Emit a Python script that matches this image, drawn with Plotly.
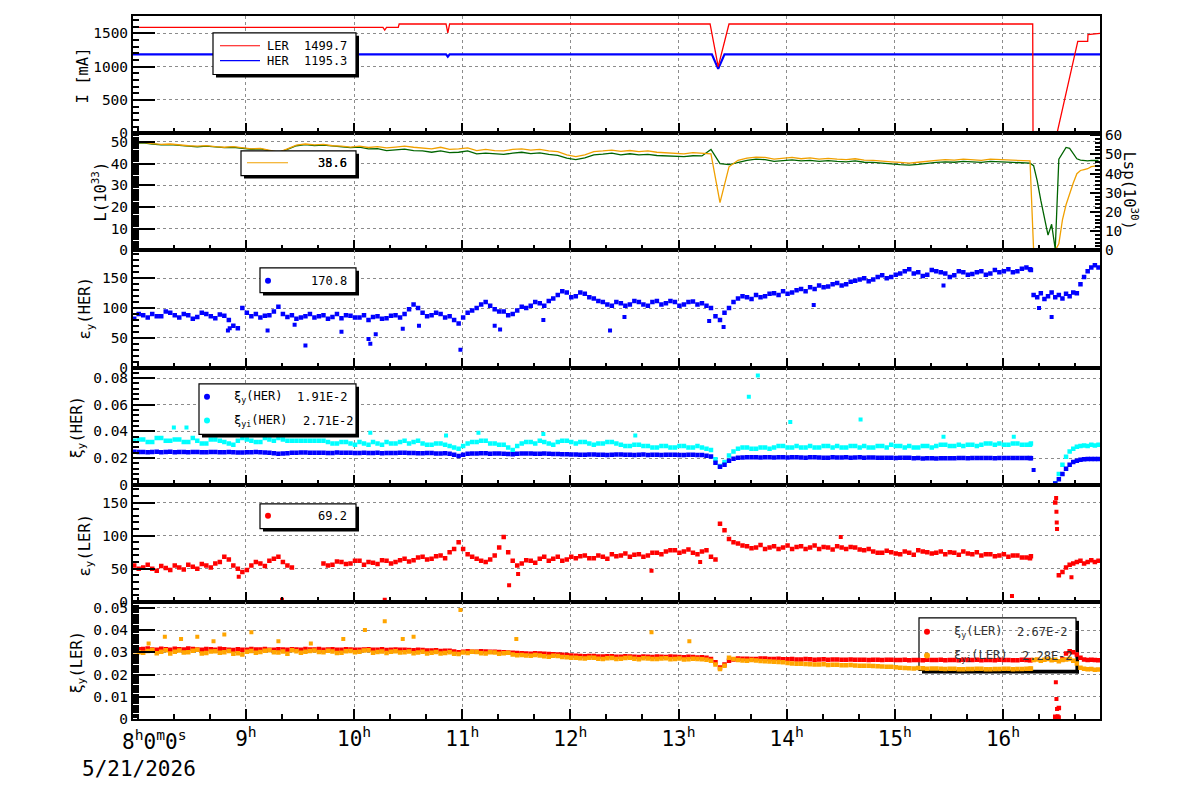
import pandas as pd
import plotly.graph_objects as go
from plotly.subplots import make_subplots

DAY = "2026-05-21"

# ---------------- sampling times ----------------
T_MAIN = list(pd.date_range(f"{DAY} 07:58", f"{DAY} 16:13", freq="5min"))      # 100 samples
T_POST = list(pd.date_range(f"{DAY} 16:15", f"{DAY} 16:53", freq="2min"))      # 20 samples
T_B = list(pd.date_range(f"{DAY} 08:00:30", f"{DAY} 16:15:30", freq="5min"))   # 100 in-between samples
T_ALL = T_MAIN + T_POST


def ts(hms):
    return [pd.Timestamp(f"{DAY} {h}") for h in hms]


# ---------------- panel 1 : beam currents [mA] ----------------
ler_i_t = ["07:57:20", "10:16:00", "10:17:00", "10:18:00", "10:24:30", "10:25:00", "10:51:00",
           "10:52:00", "10:53:00", "13:17:30", "13:22:00", "13:28:00", "16:16:30", "16:16:40",
           "16:30:00", "16:41:30", "16:47:00", "16:47:10", "16:53:50"]
ler_i_v = [1590, 1590, 1548, 1590, 1590, 1640, 1640, 1505, 1640, 1640, 1000, 1640, 1640, 0,
           0, 1380, 1380, 1480, 1500]
her_i_t = ["07:57:20", "10:51:00", "10:52:00", "10:53:00", "13:18:30", "13:22:00", "13:25:30",
           "16:53:50"]
her_i_v = [1185, 1185, 1150, 1185, 1185, 965, 1185, 1185]

# ---------------- panel 2 : luminosity ----------------
lum_orange = [49.5, 49.8, 49.2, 48.8, 49.0, 48.5, 48.2, 48.0, 48.3, 47.8,
              47.5, 47.8, 47.2, 46.8, 47.0, 46.0, 45.2, 46.8, 48.5, 49.0,
              48.6, 48.8, 48.2, 48.0, 47.6, 48.0, 47.4, 47.8, 47.2, 47.6,
              48.0, 47.5, 47.2, 46.8, 47.5, 46.5, 46.8, 47.2, 46.0, 46.5,
              46.0, 45.8, 46.5, 46.8, 46.2, 46.5, 45.8, 45.5, 44.0, 43.2,
              44.0, 45.5, 45.8, 46.2, 45.6, 46.0, 45.5, 45.8, 45.2, 45.0,
              44.8, 44.5, 45.0, 44.8, 44.5, 22.0, 38.5, 41.5, 42.5, 43.0,
              42.8, 42.0, 42.5, 42.8, 42.2, 42.6, 42.0, 42.4, 42.0, 41.8,
              42.2, 41.6, 41.5, 41.0, 40.8, 40.5, 40.2, 40.6, 41.2, 41.5,
              41.8, 41.6, 42.0, 41.8, 41.5, 42.0, 41.8, 41.5, 41.6, 41.2,
              # after 16:15
              41.2, 0, 0, 0, 0, 0, 0, 0, 3.0, 14.0,
              21.0, 26.5, 31.0, 35.3, 36.8, 37.2, 37.6, 38.6, 38.8, 39.0]
lum_green = [49.2, 49.5, 49.0, 48.6, 48.7, 48.3, 48.0, 47.7, 48.0, 47.5,
             47.3, 47.5, 47.0, 46.6, 46.8, 45.8, 45.0, 46.5, 48.2, 48.7,
             48.3, 48.5, 48.0, 47.7, 47.3, 47.6, 46.8, 46.9, 46.0, 46.3,
             46.6, 46.0, 45.8, 45.2, 45.8, 45.0, 45.2, 45.8, 44.5, 44.8,
             44.5, 44.2, 44.8, 45.2, 44.6, 44.9, 44.2, 43.8, 42.5, 41.8,
             42.6, 44.0, 44.3, 44.8, 44.0, 44.5, 44.0, 44.2, 43.7, 43.5,
             43.4, 43.2, 43.6, 43.5, 46.5, 40.0, 39.5, 40.5, 41.5, 42.0,
             41.8, 41.0, 41.4, 41.7, 41.2, 41.5, 41.0, 41.3, 41.0, 40.8,
             41.2, 40.6, 40.5, 40.0, 39.8, 39.5, 39.3, 39.6, 40.2, 40.5,
             40.8, 40.6, 41.0, 40.8, 40.5, 41.0, 40.8, 40.5, 40.6, 40.2,
             # after 16:15
             40.2, 39.0, 32.0, 23.0, 15.0, 7.0, 12.0, 0.5, 42.0, 45.0,
             47.4, 47.0, 44.5, 42.2, 41.6, 41.4, 41.2, 41.5, 41.3, 41.4]

# ---------------- panel 3 : emittance y (HER) ----------------
ey_her = [82, 88, 90, 86, 92, 84, 88, 85, 90, 83,
          87, 70, 100, 86, 84, 88, 102, 85, 82, 86,
          84, 88, 85, 83, 87, 84, 80, 86, 83, 88,
          90, 106, 92, 88, 90, 86, 74, 92, 100, 110,
          98, 94, 90, 102, 104, 108, 112, 122, 126, 120,
          124, 116, 110, 104, 108, 106, 110, 104, 112, 108,
          110, 106, 111, 108, 100, 80, 100, 116, 118, 122,
          120, 125, 128, 126, 132, 135, 138, 136, 142, 140,
          146, 150, 148, 155, 152, 158, 165, 160, 156, 162,
          158, 155, 160, 157, 162, 158, 160, 165, 162, 168,
          # after 16:15
          165, 122, 118, 125, 115, 120, 126, 118, 122, 116,
          124, 120, 126, 125, 140, 152, 162, 168, 172, 168]
ey_her_b = [90, 84, 86, 94, 88, 90, 82, 92, 86, 89,
            80, 66, 92, 90, 87, 94, 90, 88, 84, 90,
            86, 82, 90, 88, 84, 88, 85, 82, 87, 84,
            98, 100, 86, 92, 84, 80, 84, 96, 106, 104,
            94, 88, 96, 100, 110, 104, 116, 128, 118, 126,
            118, 112, 106, 110, 104, 112, 106, 110, 106, 112,
            104, 110, 106, 104, 86, 92, 110, 120, 115, 118,
            124, 122, 124, 130, 128, 132, 135, 140, 138, 144,
            148, 145, 152, 150, 156, 162, 158, 154, 164, 160,
            152, 162, 156, 160, 156, 164, 162, 160, 166, 164]
ey_her_out_t = ["08:50", "08:51", "09:12", "09:27", "09:33", "09:53", "10:08", "10:09", "10:12",
                "10:27", "10:36", "10:59", "11:18", "11:21", "11:45", "12:22", "12:30", "13:17",
                "13:25", "14:15", "15:27", "16:20", "16:27"]
ey_her_out_v = [62, 66, 62, 72, 37, 60, 48, 40, 56, 65, 70, 30, 70, 64, 80, 62, 85, 78, 68,
                105, 138, 100, 85]

# ---------------- panel 4 : beam-beam xi_y (HER) ----------------
xi_her = [0.0248, 0.0245, 0.0246, 0.0244, 0.0247, 0.0245, 0.0243, 0.0246, 0.0244, 0.0245,
          0.0243, 0.0244, 0.0242, 0.0244, 0.0243, 0.0240, 0.0232, 0.0236, 0.0240, 0.0241,
          0.0239, 0.0240, 0.0238, 0.0240, 0.0239, 0.0238, 0.0237, 0.0239, 0.0238, 0.0237,
          0.0239, 0.0238, 0.0236, 0.0237, 0.0235, 0.0232, 0.0215, 0.0232, 0.0235, 0.0236,
          0.0234, 0.0233, 0.0228, 0.0234, 0.0235, 0.0233, 0.0232, 0.0230, 0.0228, 0.0226,
          0.0225, 0.0226, 0.0224, 0.0225, 0.0226, 0.0224, 0.0225, 0.0223, 0.0224, 0.0225,
          0.0224, 0.0223, 0.0224, 0.0222, 0.0212, 0.0135, 0.0180, 0.0202, 0.0205, 0.0206,
          0.0205, 0.0204, 0.0206, 0.0205, 0.0204, 0.0205, 0.0204, 0.0203, 0.0204, 0.0205,
          0.0204, 0.0203, 0.0204, 0.0203, 0.0202, 0.0203, 0.0202, 0.0200, 0.0198, 0.0197,
          0.0198, 0.0199, 0.0200, 0.0201, 0.0200, 0.0201, 0.0200, 0.0201, 0.0200, 0.0200,
          # after 16:15
          0.0200, None, None, None, None, None, None, 0.0008, 0.0040, 0.0080,
          0.0120, 0.0150, 0.0170, 0.0180, 0.0187, 0.0190, 0.0192, 0.0193, 0.0192, 0.0193]
xi_her_b = [0.0246, 0.0244, 0.0247, 0.0245, 0.0243, 0.0246, 0.0245, 0.0244, 0.0246, 0.0243,
            0.0245, 0.0242, 0.0244, 0.0245, 0.0241, 0.0236, 0.0234, 0.0239, 0.0241, 0.0239,
            0.0240, 0.0238, 0.0241, 0.0239, 0.0237, 0.0239, 0.0238, 0.0236, 0.0238, 0.0239,
            0.0237, 0.0236, 0.0238, 0.0234, 0.0236, 0.0225, 0.0224, 0.0234, 0.0236, 0.0233,
            0.0235, 0.0231, 0.0232, 0.0235, 0.0232, 0.0234, 0.0231, 0.0229, 0.0227, 0.0224,
            0.0226, 0.0225, 0.0223, 0.0226, 0.0225, 0.0223, 0.0226, 0.0224, 0.0223, 0.0225,
            0.0222, 0.0224, 0.0223, 0.0218, 0.0165, 0.0150, 0.0195, 0.0204, 0.0206, 0.0204,
            0.0205, 0.0206, 0.0204, 0.0205, 0.0203, 0.0205, 0.0203, 0.0205, 0.0204, 0.0203,
            0.0205, 0.0204, 0.0202, 0.0203, 0.0201, 0.0202, 0.0199, 0.0197, 0.0198, 0.0199,
            0.0198, 0.0200, 0.0199, 0.0201, 0.0200, 0.0199, 0.0201, 0.0200, 0.0201, 0.0199]
xi_her_out_t = ["16:17"]
xi_her_out_v = [0.011]
xii_her = [0.033, 0.034, 0.032, 0.035, 0.033, 0.034, 0.032, 0.033, 0.031, 0.034,
           0.032, 0.030, 0.035, 0.033, 0.032, 0.034, 0.035, 0.033, 0.033, 0.033,
           0.033, 0.033, 0.031, 0.032, 0.031, 0.032, 0.030, 0.031, 0.032, 0.031,
           0.033, 0.032, 0.031, 0.030, 0.031, 0.029, 0.027, 0.031, 0.032, 0.033,
           0.031, 0.030, 0.026, 0.031, 0.032, 0.033, 0.031, 0.032, 0.033, 0.031,
           0.032, 0.030, 0.031, 0.032, 0.030, 0.029, 0.030, 0.029, 0.028, 0.029,
           0.028, 0.029, 0.028, 0.028, 0.026, 0.014, 0.022, 0.027, 0.028, 0.027,
           0.028, 0.028, 0.029, 0.028, 0.028, 0.029, 0.028, 0.029, 0.029, 0.028,
           0.029, 0.029, 0.028, 0.029, 0.030, 0.029, 0.029, 0.028, 0.029, 0.029,
           0.030, 0.029, 0.029, 0.030, 0.030, 0.031, 0.031, 0.030, 0.031, 0.030,
           # after 16:15
           0.030, None, None, None, None, None, None, 0.001, 0.008, 0.015,
           0.021, 0.025, 0.027, 0.0285, 0.029, 0.0295, 0.029, 0.030, 0.0295, 0.030]
xii_her_b = [0.034, 0.032, 0.035, 0.033, 0.034, 0.032, 0.035, 0.031, 0.034, 0.033,
             0.031, 0.033, 0.034, 0.032, 0.035, 0.033, 0.034, 0.033, 0.033, 0.033,
             0.033, 0.032, 0.031, 0.032, 0.030, 0.031, 0.032, 0.030, 0.031, 0.032,
             0.031, 0.033, 0.030, 0.031, 0.030, 0.028, 0.029, 0.032, 0.033, 0.031,
             0.030, 0.028, 0.029, 0.032, 0.031, 0.032, 0.030, 0.033, 0.032, 0.032,
             0.031, 0.031, 0.032, 0.031, 0.029, 0.030, 0.029, 0.028, 0.029, 0.028,
             0.029, 0.028, 0.029, 0.027, 0.019, 0.017, 0.025, 0.028, 0.027, 0.028,
             0.027, 0.029, 0.028, 0.029, 0.028, 0.028, 0.029, 0.028, 0.028, 0.029,
             0.028, 0.028, 0.029, 0.028, 0.029, 0.028, 0.028, 0.029, 0.028, 0.030,
             0.029, 0.030, 0.030, 0.029, 0.031, 0.030, 0.030, 0.031, 0.030, 0.031]
xii_her_out_t = ["08:20", "08:27", "08:36", "09:04", "09:18", "09:27", "10:09", "10:51", "11:09",
                 "11:45", "12:36", "13:39", "13:44", "14:02", "14:41", "15:27", "16:06"]
xii_her_out_v = [0.043, 0.043, 0.039, 0.040, 0.042, 0.038, 0.039, 0.037, 0.039, 0.038, 0.037,
                 0.066, 0.082, 0.047, 0.049, 0.036, 0.036]

# ---------------- panel 5 : emittance y (LER) ----------------
ey_ler = [55, 52, 50, 54, 48, 52, 56, 50, 55, 58,
          68, 55, 45, 55, 58, 62, 68, 55, None, None,
          None, 58, 56, 60, 58, 62, 60, 57, 62, 60,
          65, 63, 68, 65, 70, 75, 90, 72, 65, 60,
          70, 98, 62, 58, 62, 65, 62, 68, 64, 66,
          70, 66, 68, 72, 70, 68, 72, 70, 74, 76,
          78, 76, 74, 76, 68, 118, 95, 88, 84, 82,
          80, 84, 82, 80, 84, 82, 80, 82, 84, 80,
          82, 78, 76, 74, 75, 72, 74, 78, 75, 74,
          72, 74, 76, 72, 70, 72, 70, 68, 70, 67,
          # after 16:15
          66, None, None, None, None, None, None, 150, 40, 45,
          52, 56, 58, 60, 62, 58, 60, 63, 60, 62]
ey_ler_b = [50, 56, 47, 51, 55, 49, 53, 57, 52, 60,
            64, 50, 48, 60, 54, 65, 60, 52, None, None,
            None, 55, 61, 57, 62, 56, 59, 63, 58, 63,
            61, 67, 64, 69, 66, 80, 80, 68, 62, 64,
            82, 75, 55, 63, 59, 68, 65, 62, 68, 69,
            66, 70, 65, 69, 73, 71, 68, 74, 72, 78,
            74, 79, 72, 78, 64, 108, 90, 85, 81, 86,
            82, 80, 85, 83, 80, 85, 83, 79, 82, 83,
            79, 80, 74, 77, 73, 76, 71, 76, 73, 76,
            75, 71, 73, 75, 72, 69, 72, 70, 67, 69]
ey_ler_out_t = ["08:56", "09:20", "10:17", "11:26", "11:31", "12:45", "13:12", "14:30", "16:05",
                "16:29:30", "16:29:40", "16:29:50", "16:30:00", "16:38"]
ey_ler_out_v = [38, 3, 3, 25, 42, 47, 60, 98, 9, 157, 136, 120, 110, 37]

# ---------------- panel 6 : beam-beam xi_y (LER) ----------------
xi_ler = [0.0318, 0.0315, 0.0313, 0.0316, 0.0312, 0.0314, 0.0317, 0.0313, 0.0315, 0.0312,
          0.0314, 0.0310, 0.0312, 0.0315, 0.0313, 0.0311, 0.0314, 0.0312, 0.0313, 0.0315,
          0.0313, 0.0312, 0.0314, 0.0311, 0.0313, 0.0312, 0.0314, 0.0312, 0.0310, 0.0313,
          0.0311, 0.0309, 0.0310, 0.0308, 0.0306, 0.0307, 0.0300, 0.0305, 0.0303, 0.0304,
          0.0302, 0.0300, 0.0298, 0.0296, 0.0294, 0.0295, 0.0292, 0.0290, 0.0288, 0.0284,
          0.0282, 0.0283, 0.0281, 0.0282, 0.0280, 0.0281, 0.0279, 0.0280, 0.0281, 0.0279,
          0.0280, 0.0278, 0.0279, 0.0278, 0.0270, 0.0232, 0.0262, 0.0272, 0.0271, 0.0270,
          0.0272, 0.0270, 0.0269, 0.0270, 0.0268, 0.0269, 0.0268, 0.0267, 0.0268, 0.0267,
          0.0266, 0.0267, 0.0266, 0.0265, 0.0266, 0.0265, 0.0264, 0.0265, 0.0266, 0.0265,
          0.0264, 0.0265, 0.0266, 0.0265, 0.0264, 0.0265, 0.0266, 0.0265, 0.0264, 0.0265,
          # after 16:15
          0.0264, None, None, None, None, None, None, 0.0010, 0.0050, 0.0270,
          0.0295, 0.0305, 0.0300, 0.0290, 0.0275, 0.0268, 0.0265, 0.0266, 0.0265, 0.0264]
xi_ler_b = [0.0314, 0.0317, 0.0312, 0.0314, 0.0316, 0.0313, 0.0315, 0.0311, 0.0314, 0.0316,
            0.0312, 0.0314, 0.0311, 0.0313, 0.0315, 0.0312, 0.0313, 0.0314, 0.0311, 0.0313,
            0.0315, 0.0313, 0.0312, 0.0314, 0.0311, 0.0313, 0.0312, 0.0314, 0.0312, 0.0311,
            0.0310, 0.0311, 0.0308, 0.0309, 0.0307, 0.0304, 0.0302, 0.0303, 0.0305, 0.0302,
            0.0301, 0.0299, 0.0297, 0.0295, 0.0296, 0.0293, 0.0291, 0.0289, 0.0286, 0.0283,
            0.0283, 0.0281, 0.0282, 0.0280, 0.0282, 0.0280, 0.0281, 0.0279, 0.0280, 0.0281,
            0.0279, 0.0280, 0.0277, 0.0276, 0.0255, 0.0245, 0.0268, 0.0271, 0.0270, 0.0272,
            0.0270, 0.0271, 0.0269, 0.0268, 0.0270, 0.0267, 0.0269, 0.0268, 0.0266, 0.0268,
            0.0267, 0.0265, 0.0266, 0.0267, 0.0265, 0.0266, 0.0265, 0.0264, 0.0265, 0.0266,
            0.0265, 0.0264, 0.0265, 0.0266, 0.0265, 0.0264, 0.0265, 0.0264, 0.0266, 0.0265]
xi_ler_out_t = ["16:29:20", "16:29:40", "16:30:00", "16:30:20", "16:30:40", "16:31:00"]
xi_ler_out_v = [0.0165, 0.0090, 0.0045, 0.0012, 0.0005, 0.0008]
xii_ler = [0.0305, 0.0298, 0.0310, 0.0302, 0.0295, 0.0308, 0.0300, 0.0312, 0.0297, 0.0305,
           0.0300, 0.0293, 0.0290, 0.0306, 0.0301, 0.0309, 0.0299, 0.0294, 0.0305, 0.0302,
           0.0308, 0.0300, 0.0304, 0.0298, 0.0306, 0.0302, 0.0309, 0.0301, 0.0297, 0.0305,
           0.0300, 0.0296, 0.0302, 0.0298, 0.0295, 0.0300, 0.0292, 0.0297, 0.0301, 0.0295,
           0.0299, 0.0296, 0.0290, 0.0288, 0.0284, 0.0286, 0.0280, 0.0283, 0.0278, 0.0275,
           0.0272, 0.0276, 0.0270, 0.0274, 0.0271, 0.0275, 0.0269, 0.0272, 0.0270, 0.0273,
           0.0270, 0.0268, 0.0271, 0.0269, 0.0262, 0.0225, 0.0275, 0.0265, 0.0262, 0.0263,
           0.0260, 0.0258, 0.0255, 0.0250, 0.0248, 0.0246, 0.0245, 0.0243, 0.0244, 0.0242,
           0.0241, 0.0240, 0.0238, 0.0236, 0.0235, 0.0230, 0.0228, 0.0229, 0.0226, 0.0227,
           0.0225, 0.0226, 0.0224, 0.0225, 0.0226, 0.0224, 0.0225, 0.0226, 0.0225, 0.0226,
           # after 16:15
           0.0226, 0.0265, 0.0268, 0.0262, 0.0266, 0.0270, 0.0264, 0.0267, 0.0260, 0.0265,
           0.0268, 0.0270, 0.0262, 0.0250, 0.0230, 0.0226, 0.0224, 0.0225, 0.0222, 0.0223]
xii_ler_b = [0.0300, 0.0306, 0.0296, 0.0309, 0.0303, 0.0299, 0.0307, 0.0295, 0.0304, 0.0298,
             0.0306, 0.0296, 0.0302, 0.0298, 0.0307, 0.0300, 0.0304, 0.0309, 0.0298, 0.0306,
             0.0301, 0.0307, 0.0297, 0.0305, 0.0300, 0.0308, 0.0298, 0.0304, 0.0302, 0.0299,
             0.0304, 0.0299, 0.0295, 0.0301, 0.0297, 0.0294, 0.0299, 0.0302, 0.0296, 0.0300,
             0.0294, 0.0298, 0.0287, 0.0286, 0.0288, 0.0282, 0.0284, 0.0279, 0.0276, 0.0273,
             0.0275, 0.0271, 0.0273, 0.0270, 0.0274, 0.0271, 0.0273, 0.0270, 0.0272, 0.0269,
             0.0272, 0.0269, 0.0270, 0.0266, 0.0245, 0.0240, 0.0270, 0.0263, 0.0265, 0.0261,
             0.0259, 0.0256, 0.0252, 0.0249, 0.0247, 0.0245, 0.0246, 0.0244, 0.0242, 0.0243,
             0.0240, 0.0239, 0.0237, 0.0235, 0.0233, 0.0229, 0.0227, 0.0228, 0.0227, 0.0226,
             0.0226, 0.0224, 0.0225, 0.0226, 0.0224, 0.0225, 0.0226, 0.0224, 0.0225, 0.0227]
xii_ler_out_t = ["08:06", "08:15", "08:24", "08:33", "08:42", "08:48", "09:03", "09:18", "09:36",
                 "09:54", "10:06", "10:17", "10:27", "10:33", "10:59", "11:30", "12:45", "13:06"]
xii_ler_out_v = [0.034, 0.037, 0.036, 0.037, 0.035, 0.038, 0.039, 0.035, 0.034, 0.036, 0.040,
                 0.044, 0.036, 0.037, 0.049, 0.036, 0.039, 0.035]

# ---------------- legend values / ticks ----------------
hour_ticks = [9, 10, 11, 12, 13, 14, 15, 16]
legend_i = [("LER", "1499.7"), ("HER", "1195.3")]
legend_lum = ["35.6", "38.6"]
legend_ey_her = "170.8"
legend_xi_her = [("ξ<sub>y</sub>(HER)", "1.91E-2"), ("ξ<sub>yi</sub>(HER)", "2.71E-2")]
legend_ey_ler = "69.2"
legend_xi_ler = [("ξ<sub>y</sub>(LER)", "2.67E-2"), ("ξ<sub>yi</sub>(LER)", "2.28E-2")]

RED, BLUE, CYAN, ORANGE, GREEN = "#ff0000", "#0000ff", "#00ffff", "#ffa500", "#006400"
LORANGE = "#f0a000"
FONT = "DejaVu Sans Mono"

# pixel -> paper helpers (plot area 133..1100 x 10..719)
L, R, T, B = 133, 1100, 10, 719


def PX(x):
    return (x - L) / (R - L)


def PY(y):
    return (B - y) / (B - T)


fig = make_subplots(rows=6, cols=1, shared_xaxes=True, vertical_spacing=0,
                    specs=[[{}], [{"secondary_y": True}], [{}], [{}], [{}], [{}]])

MS = 4.5


def pts(x, y, color, row, size=MS):
    fig.add_trace(go.Scatter(x=x, y=y, mode="markers",
                             marker=dict(symbol="square", size=size, color=color, line=dict(width=0)),
                             showlegend=False, hoverinfo="skip"), row=row, col=1)


# panel 1
fig.add_trace(go.Scatter(x=ts(her_i_t), y=her_i_v, mode="lines", line=dict(color=BLUE, width=2.2),
                         showlegend=False), row=1, col=1)
fig.add_trace(go.Scatter(x=ts(ler_i_t), y=ler_i_v, mode="lines", line=dict(color=RED, width=1.3),
                         showlegend=False), row=1, col=1)
# panel 2
fig.add_trace(go.Scatter(x=T_ALL, y=lum_green, mode="lines", line=dict(color=GREEN, width=1.3),
                         showlegend=False), row=2, col=1)
fig.add_trace(go.Scatter(x=T_ALL, y=lum_orange, mode="lines", line=dict(color=LORANGE, width=1.3),
                         showlegend=False), row=2, col=1)
# panel 3
pts(T_ALL + T_B, ey_her + ey_her_b, BLUE, 3)
pts(ts(ey_her_out_t), ey_her_out_v, BLUE, 3, 4)
# panel 4
pts(T_ALL + T_B, xii_her + xii_her_b, CYAN, 4)
pts(ts(xii_her_out_t), xii_her_out_v, CYAN, 4, 4)
pts(T_ALL + T_B, xi_her + xi_her_b, BLUE, 4)
pts(ts(xi_her_out_t), xi_her_out_v, BLUE, 4, 4)
# panel 5
pts(T_ALL + T_B, ey_ler + ey_ler_b, RED, 5)
pts(ts(ey_ler_out_t), ey_ler_out_v, RED, 5, 4)
# panel 6
pts(T_ALL + T_B, xi_ler + xi_ler_b, RED, 6)
pts(ts(xi_ler_out_t), xi_ler_out_v, RED, 6, 4)
pts(T_ALL + T_B, xii_ler + xii_ler_b, ORANGE, 6)
pts(ts(xii_ler_out_t), xii_ler_out_v, ORANGE, 6, 4)

# ---------------- axes ----------------
xr = [f"{DAY} 07:57:20", f"{DAY} 16:53:50"]
fig.update_xaxes(type="date", range=xr, domain=[0, 1], showline=True, linecolor="black",
                 linewidth=2, mirror=True,
                 ticks="inside", ticklen=10, tickwidth=2, tickcolor="black",
                 tickvals=[pd.Timestamp(f"{DAY} {h:02d}:00") for h in hour_ticks],
                 ticktext=[f"{h}<sup>h</sup>" for h in hour_ticks],
                 showgrid=True, gridcolor="#8c8c8c", gridwidth=1, griddash="dot",
                 minor=dict(ticks="inside", ticklen=5, tickwidth=1.5, tickcolor="black",
                            dtick=20 * 60 * 1000, tick0=f"{DAY} 08:00", showgrid=False),
                 tickfont=dict(family=FONT, size=21, color="black"), zeroline=False)

ycfg = [
    dict(range=[0, 1760], dtick=500, minor=100),
    dict(range=[0, 54], dtick=10, minor=1),
    dict(range=[0, 197], dtick=50, minor=10),
    dict(range=[0, 0.088], dtick=0.02, minor=0.004),
    dict(range=[0, 177], dtick=50, minor=10),
    dict(range=[0, 0.0527], dtick=0.01, minor=0.001),
]
for i, c in enumerate(ycfg):
    kw = dict(row=i + 1, col=1)
    if i == 1:
        kw["secondary_y"] = False
    fig.update_yaxes(range=c["range"], tick0=0, dtick=c["dtick"], showline=True, linecolor="black",
                     linewidth=2, mirror=True, ticks="inside", ticklen=22, tickwidth=2,
                     tickcolor="black", showgrid=True, gridcolor="#8c8c8c", gridwidth=1,
                     griddash="dot", zeroline=False,
                     minor=dict(ticks="inside", ticklen=6, tickwidth=1.5, tickcolor="black",
                                dtick=c["minor"], tick0=0, showgrid=False),
                     tickfont=dict(family=FONT, size=14.5, color="black"), **kw)

fig.update_yaxes(range=[0, 61], tick0=0, dtick=10, showline=True, linecolor="black", linewidth=2,
                 ticks="inside", ticklen=10, tickwidth=2, tickcolor="black", showgrid=False,
                 zeroline=False, side="right",
                 minor=dict(ticks="inside", ticklen=5, tickwidth=1.5, tickcolor="black", dtick=2,
                            tick0=0),
                 tickfont=dict(family=FONT, size=14.5, color="black"),
                 row=2, col=1, secondary_y=True)
# invisible trace so the right-hand axis is drawn
fig.add_trace(go.Scatter(x=[T_ALL[0]], y=[0], mode="markers", marker=dict(opacity=0),
                         showlegend=False, hoverinfo="skip"), row=2, col=1, secondary_y=True)

# ---------------- annotations / legend boxes ----------------
ann = []
shapes = []


def text(s, x, y, size=12, xanchor="left", angle=0, color="black", yanchor="middle"):
    ann.append(dict(text=s, x=PX(x), y=PY(y), xref="paper", yref="paper", showarrow=False,
                    xanchor=xanchor, yanchor=yanchor, textangle=angle,
                    font=dict(family=FONT, size=size, color=color)))


def box(x0, y0, x1, y1, filled=True):
    if filled:
        shapes.append(dict(type="rect", xref="paper", yref="paper", x0=PX(x0 + 3), x1=PX(x1 + 3),
                           y0=PY(y1 + 3), y1=PY(y0 + 3), fillcolor="black", line=dict(width=0),
                           layer="above"))
        shapes.append(dict(type="rect", xref="paper", yref="paper", x0=PX(x0), x1=PX(x1),
                           y0=PY(y1), y1=PY(y0), fillcolor="white",
                           line=dict(color="black", width=1.2), layer="above"))
    else:
        shapes.append(dict(type="rect", xref="paper", yref="paper", x0=PX(x0), x1=PX(x1),
                           y0=PY(y1), y1=PY(y0), line=dict(color="black", width=1.2),
                           layer="below"))
        shapes.append(dict(type="line", xref="paper", yref="paper", x0=PX(x1 + 1.5), x1=PX(x1 + 1.5),
                           y0=PY(y0 + 3), y1=PY(y1 + 3), line=dict(color="black", width=3),
                           layer="below"))
        shapes.append(dict(type="line", xref="paper", yref="paper", x0=PX(x0 + 3), x1=PX(x1 + 3),
                           y0=PY(y1 + 1.5), y1=PY(y1 + 1.5), line=dict(color="black", width=3),
                           layer="below"))


def sample_line(x0, x1, y, color):
    shapes.append(dict(type="line", xref="paper", yref="paper", x0=PX(x0), x1=PX(x1), y0=PY(y),
                       y1=PY(y), line=dict(color=color, width=1.2), layer="above"))


def dot(cx, cy, color, r=3):
    shapes.append(dict(type="circle", xref="paper", yref="paper", x0=PX(cx - r), x1=PX(cx + r),
                       y0=PY(cy + r), y1=PY(cy - r), fillcolor=color, line=dict(width=0),
                       layer="above"))


# panel 1 legend
box(213, 27, 356, 69)
for (name, val), yy, col in zip(legend_i, [40, 55], [RED, BLUE]):
    sample_line(220, 260, yy, col)
    text(name, 265, yy, 12)
    text(val, 349, yy, 12, xanchor="right")
# panel 2 legend
box(241, 146, 356, 171)
sample_line(247, 288, 158, LORANGE)
for v in legend_lum:
    text(v, 349, 158, 12, xanchor="right")
# panel 3 legend
box(260, 264, 356, 289)
dot(268, 277, BLUE)
text(legend_ey_her, 349, 277, 12, xanchor="right")
# panel 4 legend
box(199, 381, 356, 432)
for (name, val), yy, col, vx in zip(legend_xi_her, [394, 418], [BLUE, CYAN], [295, 301]):
    dot(207, yy, col)
    text(name, 232, yy, 12)
    text(val, vx, yy, 12)
# panel 5 legend
box(260, 502, 356, 527)
dot(268, 514, RED)
text(legend_ey_ler, 349, 514, 12, xanchor="right")
# panel 6 legend (transparent)
box(919, 617, 1076, 670, filled=False)
for (name, val), yy, col, vx in zip(legend_xi_ler, [631, 655], [RED, ORANGE], [1015, 1020]):
    dot(927, yy, col)
    text(name, 952, yy, 12, color="#333333")
    text(val, vx, yy, 12, color="#333333")

# axis titles
TS = 15.5
text("I [mA]", 83, 70, TS, xanchor="center", angle=-90)
text("L(10<sup>33</sup>)", 100, 187, TS, xanchor="center", angle=-90)
text("ε<sub>y</sub>(HER)", 86, 305, TS, xanchor="center", angle=-90)
text("ξ<sub>y</sub>(HER)", 78, 425, TS, xanchor="center", angle=-90)
text("ε<sub>y</sub>(LER)", 86, 544, TS, xanchor="center", angle=-90)
text("ξ<sub>y</sub>(LER)", 78, 662, TS, xanchor="center", angle=-90)
text("Lsp(10<sup>30</sup>)", 1130, 186, TS, xanchor="center", angle=90)

# time-axis start label and date
text("8<sup>h</sup>0<sup>m</sup>0<sup>s</sup>", 120, 740, 21)
text("5/21/2026", 80, 769, 21)

fig.update_layout(width=1200, height=798, margin=dict(l=L, r=1200 - R, t=T, b=798 - B),
                  plot_bgcolor="white", paper_bgcolor="white", showlegend=False,
                  font=dict(family=FONT, color="black"), annotations=ann, shapes=shapes)

fig.write_html("out.html")
